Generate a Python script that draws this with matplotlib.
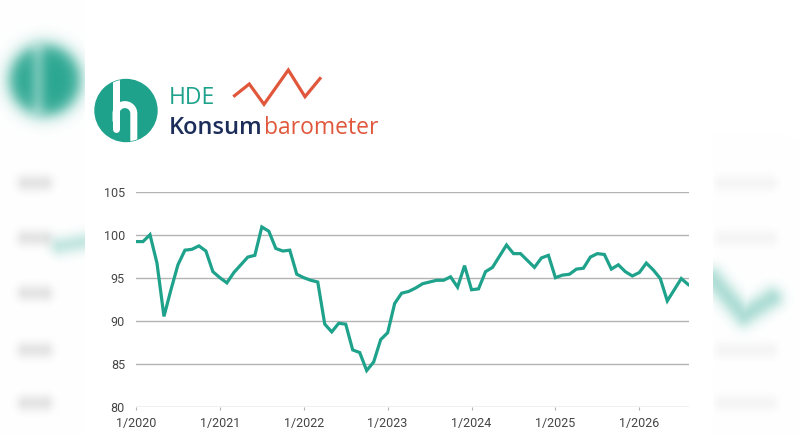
import numpy as np
import matplotlib
matplotlib.use("Agg")
import matplotlib.pyplot as plt
from matplotlib.patches import Circle

# ---------------- data ----------------
year_labels = ["1/2020", "1/2021", "1/2022", "1/2023", "1/2024", "1/2025", "1/2026"]
y_ticks = [80, 85, 90, 95, 100, 105]
index_2020 = [99.2, 99.2, 100.0, 96.7, 90.5, 93.6, 96.5, 98.2, 98.3, 98.7, 98.1, 95.7]
index_2021 = [95.0, 94.4, 95.6, 96.5, 97.4, 97.6, 100.9, 100.4, 98.4, 98.1, 98.2, 95.4]
index_2022 = [95.0, 94.7, 94.5, 89.6, 88.7, 89.7, 89.6, 86.6, 86.3, 84.2, 85.2, 87.8]
index_2023 = [88.6, 92.0, 93.2, 93.4, 93.8, 94.3, 94.5, 94.7, 94.7, 95.1, 93.9, 96.4]
index_2024 = [93.6, 93.7, 95.7, 96.2, 97.5, 98.8, 97.8, 97.8, 97.0, 96.2, 97.3, 97.6]
index_2025 = [95.0, 95.3, 95.4, 96.0, 96.1, 97.4, 97.8, 97.7, 96.0, 96.5, 95.7, 95.2]
index_2026 = [95.6, 96.7, 95.9, 94.9, 92.3, 93.6, 94.9, 94.2]

values = index_2020 + index_2021 + index_2022 + index_2023 + index_2024 + index_2025 + index_2026
months = np.arange(len(values))
tick_pos = [12 * i for i in range(len(year_labels))]

TEAL = "#1fa28b"
GRID = "#b3b3b3"
TXT = "#454545"
NAVY = "#1c2d5a"
ORANGE = "#e0573c"

W, H = 800, 434
fig = plt.figure(figsize=(W / 100, H / 100), dpi=100)
fig.patch.set_facecolor("white")

# ---------------- blurred side decoration ----------------
yy, xx = np.mgrid[0:H, 0:W] + 0.5
rgb = np.ones((H, W, 3))


def seg_dist(x0, y0, x1, y1):
    dx, dy = x1 - x0, y1 - y0
    t = np.clip(((xx - x0) * dx + (yy - y0) * dy) / (dx * dx + dy * dy), 0, 1)
    return np.hypot(xx - (x0 + t * dx), yy - (y0 + t * dy))


def blend(alpha, color):
    c = np.array(matplotlib.colors.to_rgb(color))
    a = alpha[..., None]
    rgb[:] = rgb * (1 - a) + c * a


# teal blurred disc top-left
r = np.hypot(xx - 45, yy - 80)
blend(0.95 / (1 + np.exp((r - 35) / 4.5)), "#1fa28b")
# lighter blurred "h" inside
d = seg_dist(38, 50, 38, 108)
blend(0.3 * np.exp(-d ** 2 / (2 * 6 ** 2)) * (r < 40), "#ffffff")

# grey blurred dashes left
for yc in [183, 238, 293, 350, 403]:
    d = seg_dist(25, yc, 45, yc)
    blend(0.22 * np.exp(-d ** 2 / (2 * 6 ** 2)), "#8a8a8a")
# teal blur left
d = seg_dist(60, 246, 95, 240)
blend(0.25 * np.exp(-d ** 2 / (2 * 7 ** 2)), TEAL)

# grey blurred dashes right
for yc in [183, 238, 350, 403]:
    d = seg_dist(722, yc, 770, yc)
    blend(0.08 * np.exp(-d ** 2 / (2 * 6 ** 2)), "#8a8a8a")
# teal blurred V right
dv = np.minimum(seg_dist(712, 278, 744, 316), seg_dist(744, 316, 772, 298))
blend(0.35 * np.exp(-dv ** 2 / (2 * 8 ** 2)), TEAL)

# white central panel
panel = (xx > 85) & (xx < 713)
rgb[panel] = 1.0
fig.figimage(rgb, 0, 0, origin="upper", zorder=-10)

# ---------------- chart ----------------
ax = fig.add_axes([136 / W, 1 - 406.7 / H, (689.3 - 136) / W, 215 / H], zorder=2)
ax.set_facecolor("none")
ax.plot(months, values, color=TEAL, lw=2.3, solid_joinstyle="miter", zorder=3)
ax.set_xlim(0, 79.15)
ax.set_ylim(80, 105)
ax.set_yticks(y_ticks)
ax.set_yticklabels([str(v) for v in y_ticks])
ax.set_xticks(tick_pos)
ax.set_xticklabels(year_labels)
for v in y_ticks:
    ax.axhline(v, color=GRID, lw=1.0, zorder=1)
for s in ax.spines.values():
    s.set_visible(False)
ax.tick_params(axis="y", length=0, pad=8, labelsize=9, labelcolor=TXT)
ax.tick_params(axis="x", length=2.5, width=0.8, color=GRID, pad=5,
               labelsize=9, labelcolor=TXT)
for lab in ax.get_xticklabels() + ax.get_yticklabels():
    lab.set_fontfamily("Roboto")

# ---------------- logo ----------------
lg = fig.add_axes([0, 0, 1, 1], zorder=5)
lg.set_xlim(0, W)
lg.set_ylim(H, 0)
lg.axis("off")
lg.patch.set_alpha(0)

circ = Circle((126, 110.5), 31, color=TEAL, zorder=1)
lg.add_patch(circ)
clip = Circle((126, 110.5), 31, transform=lg.transData)
lw_h = 7 * 72 / 100
stem, = lg.plot([116, 116], [70, 129], color="white", lw=lw_h, solid_capstyle="round", zorder=2)
ang = np.linspace(np.pi, 2 * np.pi, 40)
ax_c, ay_c, rad = 124.9, 113.5, 8.9
arch_x = np.concatenate([[116], ax_c + rad * np.cos(ang), [133.8]])
arch_y = np.concatenate([[118], ay_c + rad * np.sin(ang), [150]])
arch, = lg.plot(arch_x, arch_y, color="white", lw=lw_h, zorder=2)
stem.set_clip_path(clip)
arch.set_clip_path(clip)

lg.text(169, 103.5, "HDE", color=TEAL, fontsize=16.5, fontfamily="Open Sans",
        fontweight="medium", ha="left", va="baseline")
t1 = lg.text(169, 134, "Konsum", color=NAVY, fontsize=17, fontfamily="Open Sans",
             fontweight="semibold", ha="left", va="baseline")
fig.canvas.draw()
bb = t1.get_window_extent()
x_end = bb.x1 + 1
lg.text(x_end, 134, "barometer", color=ORANGE, fontsize=16.5, fontfamily="Open Sans",
        ha="left", va="baseline")
zz_x = [233.3, 249.3, 264, 288.3, 305, 321]
zz_y = [96.7, 84, 104.3, 70, 96.7, 77.3]
lg.plot(zz_x, zz_y, color=ORANGE, lw=2.3, solid_joinstyle="miter", solid_capstyle="butt")

fig.savefig("out.png", dpi=100, facecolor="white")
